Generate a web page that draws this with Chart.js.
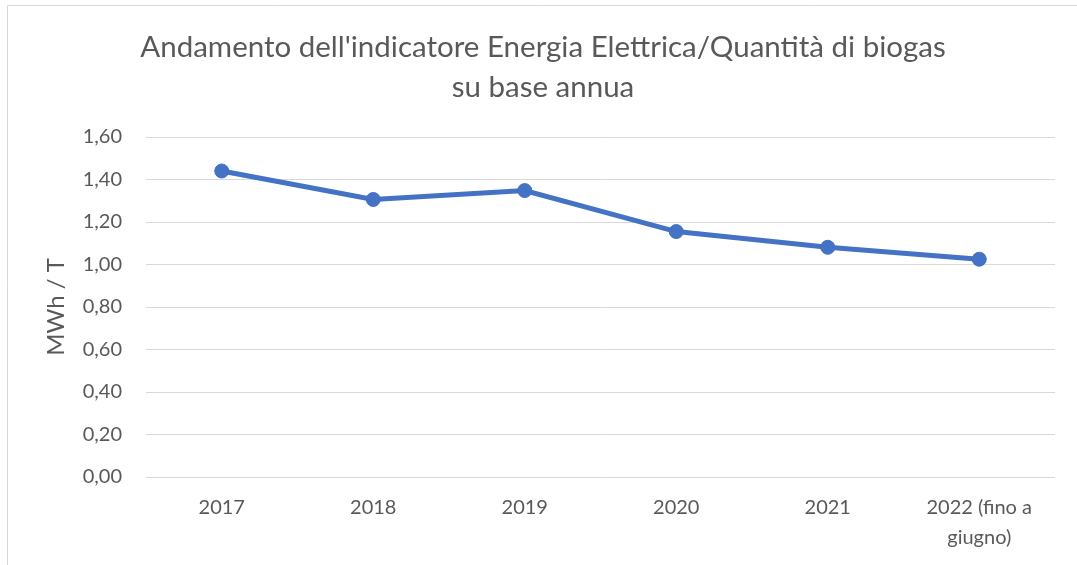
<!DOCTYPE html>
<html>
<head>
<meta charset="utf-8">
<script src="https://cdn.jsdelivr.net/npm/chart.js@4.4.0/dist/chart.umd.min.js"></script>
<style>
  html, body { margin: 0; padding: 0; background: #ffffff; }
  #wrap { position: relative; width: 1077px; height: 565px; }
</style>
</head>
<body>
<div id="wrap"><canvas id="c" width="1077" height="565"></canvas></div>
<script>
const categories = ["2017", "2018", "2019", "2020", "2021", ["2022 (fino a", "giugno)"]];
const values = [1.44, 1.306, 1.348, 1.155, 1.081, 1.025];
const yTickValues = [0, 0.2, 0.4, 0.6, 0.8, 1.0, 1.2, 1.4, 1.6];
const titleLines = ["Andamento dell'indicatore Energia Elettrica/Quantità di biogas", "su base annua"];
const yAxisTitle = "MWh / T";

const textColor = "#595959";
const fontFamily = "Lato, 'Open Sans', sans-serif";

const framePlugin = {
  id: 'frame',
  beforeDraw(chart) {
    const ctx = chart.ctx;
    ctx.save();
    ctx.fillStyle = '#ffffff';
    ctx.fillRect(0, 0, chart.width, chart.height);
    ctx.strokeStyle = '#d9d9d9';
    ctx.lineWidth = 1;
    ctx.beginPath();
    ctx.moveTo(7.5, chart.height);
    ctx.lineTo(7.5, 5.5);
    ctx.lineTo(chart.width, 5.5);
    ctx.stroke();
    ctx.restore();
  }
};

new Chart(document.getElementById('c'), {
  type: 'line',
  data: {
    labels: categories,
    datasets: [{
      data: values,
      borderColor: '#4472C4',
      backgroundColor: '#4472C4',
      borderWidth: 5,
      pointRadius: 7,
      pointBorderWidth: 1,
      pointBackgroundColor: '#4472C4',
      pointBorderColor: '#4472C4',
      tension: 0,
      fill: false
    }]
  },
  options: {
    responsive: false,
    animation: false,
    devicePixelRatio: 1,
    layout: { padding: { left: 31, right: 22, top: 5, bottom: 0 } },
    plugins: {
      legend: { display: false },
      tooltip: { enabled: false },
      title: {
        display: true,
        text: titleLines,
        color: textColor,
        font: { family: fontFamily, size: 29.5, weight: 'normal', lineHeight: 1.356 },
        padding: { top: 22, bottom: 30 }
      }
    },
    scales: {
      x: {
        offset: true,
        grid: { display: false, drawTicks: false },
        border: { display: false },
        ticks: {
          color: textColor,
          font: { family: fontFamily, size: 20, lineHeight: 1.5 },
          padding: 16,
          maxRotation: 0,
          autoSkip: false
        },
        afterFit(s) { s.height = 88; }
      },
      y: {
        min: 0,
        max: 1.6,
        afterBuildTicks(s) { s.ticks = yTickValues.map(v => ({ value: v })); },
        grid: { color: '#d9d9d9', lineWidth: 1, drawTicks: false },
        border: { display: false },
        ticks: {
          color: textColor,
          font: { family: fontFamily, size: 20 },
          padding: 24,
          callback: v => Number(v).toFixed(2).replace('.', ',')
        },
        title: {
          display: true,
          text: yAxisTitle,
          color: textColor,
          font: { family: fontFamily, size: 24, lineHeight: 1.2 },
          padding: { top: 11, bottom: 0 }
        },
        afterFit(s) { s.width = 115; }
      }
    }
  },
  plugins: [framePlugin]
});
</script>
</body>
</html>
